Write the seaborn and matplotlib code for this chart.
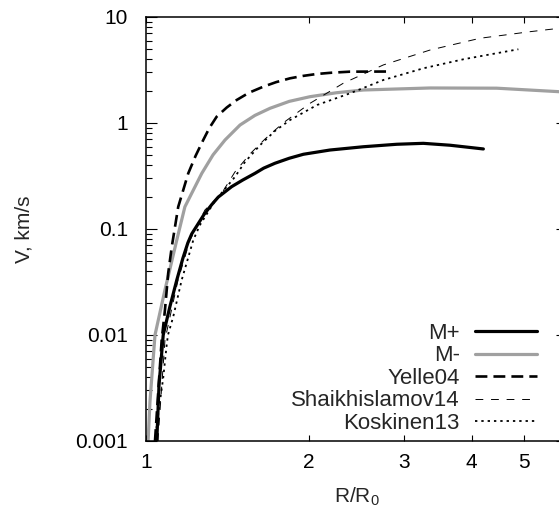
import numpy as np
import pandas as pd
import matplotlib
matplotlib.use("Agg")
import matplotlib.pyplot as plt
from matplotlib.ticker import FixedLocator, FixedFormatter, LogLocator, NullLocator, NullFormatter
import seaborn as sns

# data (R/R0, V in km/s)
mplus_r = [1.047, 1.057, 1.076, 1.107, 1.140, 1.170, 1.195, 1.215, 1.240, 1.280, 1.323, 1.360, 1.440,
           1.510, 1.590, 1.650, 1.731, 1.840, 1.954, 2.188, 2.522, 2.907, 3.255, 3.647, 4.203]
mplus_v = [0.001, 0.00337, 0.0100, 0.0185, 0.033, 0.053, 0.074, 0.090, 0.106, 0.137, 0.170, 0.20, 0.251,
           0.29, 0.335, 0.375, 0.417, 0.465, 0.507, 0.556, 0.597, 0.630, 0.643, 0.617, 0.569]

mminus_r = [1.009, 1.017, 1.039, 1.084, 1.140, 1.180, 1.268, 1.330, 1.400, 1.492, 1.590, 1.695,
            1.840, 2.010, 2.250, 2.522, 3.350, 4.449, 5.80, 6.0]
mminus_v = [0.001, 0.00235, 0.0100, 0.0266, 0.0787, 0.162, 0.335, 0.50, 0.692, 0.957, 1.18, 1.376,
            1.60, 1.771, 1.93, 2.048, 2.14, 2.13, 1.974, 1.95]

yelle_r = [1.039, 1.069, 1.084, 1.099, 1.116, 1.147, 1.197, 1.235, 1.276, 1.310, 1.351, 1.410,
           1.471, 1.550, 1.647, 1.740, 1.846, 1.950, 2.068, 2.200, 2.383, 2.846]
yelle_v = [0.001, 0.00898, 0.0172, 0.0382, 0.068, 0.162, 0.335, 0.49, 0.692, 0.90, 1.148, 1.40,
           1.648, 1.93, 2.20, 2.43, 2.64, 2.78, 2.90, 2.98, 3.05, 3.06]

shaikh_r = [1.052, 1.084, 1.146, 1.206, 1.285, 1.380, 1.460, 1.557, 1.660, 1.792, 2.010, 2.315,
            2.746, 3.350, 4.144, 5.128, 5.80, 6.0]
shaikh_v = [0.001, 0.00898, 0.033, 0.0787, 0.151, 0.217, 0.345, 0.511, 0.707, 1.0, 1.534, 2.37,
            3.53, 4.88, 6.30, 7.27, 7.82, 7.95]

kosk_r = [1.041, 1.047, 1.061, 1.076, 1.092, 1.098, 1.123, 1.164, 1.223, 1.258, 1.341, 1.460,
          1.524, 1.625, 1.731, 1.846, 2.071, 2.383, 2.746, 3.255, 3.859, 4.878]
kosk_v = [0.001, 0.00142, 0.00235, 0.00393, 0.00805, 0.0100, 0.0149, 0.033, 0.0787, 0.109, 0.184, 0.310,
          0.429, 0.619, 0.841, 1.067, 1.479, 1.906, 2.545, 3.28, 3.99, 4.96]

x_ticks = [1, 2, 3, 4, 5]
y_ticks = [0.001, 0.01, 0.1, 1, 10]
y_tick_labels = ["0.001", "0.01", "0.1", "1", "10"]

sns.set_style("ticks")
plt.rcParams["font.family"] = ["Liberation Sans", "DejaVu Sans"]
plt.rcParams["font.size"] = 15

fig = plt.figure(figsize=(5.59, 5.12), dpi=100)
# right spine sits just outside the canvas, like the cropped original
ax = fig.add_axes([146 / 559, 71 / 512, 421 / 559, 424 / 512])

series = [
    ("M+", mplus_r, mplus_v, dict(color="black", lw=2.3, linestyle="-")),
    ("M-", mminus_r, mminus_v, dict(color="#a0a0a0", lw=2.3, linestyle="-")),
    ("Yelle04", yelle_r, yelle_v, dict(color="black", lw=1.9, linestyle=(0, (4.5, 2.3)))),
    ("Shaikhislamov14", shaikh_r, shaikh_v, dict(color="black", lw=0.7, linestyle=(0, (8, 8)))),
    ("Koskinen13", kosk_r, kosk_v, dict(color="black", lw=1.3, linestyle=(0, (1.3, 2.2)))),
]

for name, r, v, style in series:
    df = pd.DataFrame({"r": r, "v": v})
    sns.lineplot(data=df, x="r", y="v", ax=ax, label=name, sort=False, estimator=None, **style)

ax.set_xscale("log")
ax.set_yscale("log")
ax.set_xlim(1, 6)
ax.set_ylim(0.001, 10)

ax.xaxis.set_major_locator(FixedLocator(x_ticks))
ax.xaxis.set_major_formatter(FixedFormatter([str(t) for t in x_ticks]))
ax.xaxis.set_minor_locator(NullLocator())
ax.yaxis.set_major_locator(FixedLocator(y_ticks))
ax.yaxis.set_major_formatter(FixedFormatter(y_tick_labels))
ax.yaxis.set_minor_locator(LogLocator(base=10, subs=np.arange(2, 10)))
ax.yaxis.set_minor_formatter(NullFormatter())

ax.tick_params(axis="both", which="both", direction="in", top=True, right=True,
               width=0.8, colors="black", labelsize=15)
ax.tick_params(axis="y", which="major", length=8, pad=13)
ax.tick_params(axis="y", which="minor", length=4.3)
ax.tick_params(axis="x", which="major", length=4.3, pad=9)

for sp in ax.spines.values():
    sp.set_linewidth(1.1)
    sp.set_color("black")

ax.set_xlabel(r"R/R$_\mathregular{0}$", fontsize=15)
ax.set_ylabel("V, km/s", fontsize=15)
ax.xaxis.set_label_coords(0.5, -0.105)
ax.yaxis.set_label_coords(-0.268, 0.5)

ax.legend(loc="lower right", bbox_to_anchor=(0.9287, 0.0165), frameon=False,
          markerfirst=False, fontsize=16, handlelength=2.8, handletextpad=0.68,
          labelspacing=0.07, borderpad=0, borderaxespad=0)

fig.savefig("out.png", dpi=100)
